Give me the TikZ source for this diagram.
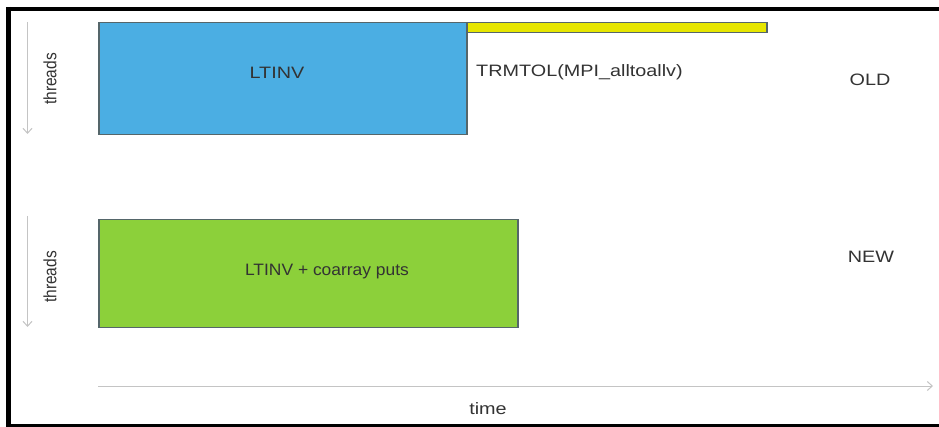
\documentclass[tikz,border=0pt]{standalone}
\usepackage{fontspec}
\setmainfont{Liberation Sans}
\usetikzlibrary{arrows.meta}
\definecolor{ltblue}{HTML}{4BAEE3}
\definecolor{ltgreen}{HTML}{8CD03A}
\definecolor{ltyellow}{HTML}{E6E600}
\definecolor{edgegray}{HTML}{55666A}
\definecolor{axisgray}{HTML}{C4C4C4}
\definecolor{txtgray}{HTML}{333333}
\begin{document}
\begin{tikzpicture}[x=1pt,y=-1pt,
  bar/.style={draw=edgegray,line width=1.5pt,inner sep=0pt},
  lbl/.style={text=txtgray,font=\fontsize{16.5}{19}\selectfont,inner sep=0pt,xscale=1.2},
  vlbl/.style={text=txtgray,font=\fontsize{15.5}{18}\selectfont,inner sep=0pt,rotate=90,yscale=1.15},
  axis/.style={draw=axisgray,line width=1pt,-{Straight Barb[length=5pt,width=9pt]}}]
\useasboundingbox (0,0) rectangle (939,427);
\fill[white] (0,0) rectangle (939,427);
% frame
\draw[black,line width=4pt] (6,9) -- (939,9);
\draw[black,line width=5pt] (8.5,7) -- (8.5,427);
\draw[black,line width=3pt] (6,425.5) -- (939,425.5);
% bars
\node[bar,fill=ltblue,minimum width=368pt,minimum height=112pt,anchor=north west] (ltinv) at (98,22) {};
\node[bar,fill=ltyellow,minimum width=300pt,minimum height=10pt,anchor=north west] (trm) at (466,22) {};
\node[bar,fill=ltgreen,minimum width=419pt,minimum height=108pt,anchor=north west] (ltnew) at (98,219) {};
\node[lbl] (t1) at (277,73) {LTINV};
\node[lbl,xscale=0.88] (t2) at (327,272) {LTINV + coarray puts};
\node[lbl,anchor=west] (t3) at (476,72) {TRMTOL(MPI\_alltoallv)};
\node[lbl] (old) at (870,80) {OLD};
\node[lbl] (new) at (871,257) {NEW};
% threads axes
\coordinate (a1s) at (27.5,22);
\coordinate (a1e) at (27.5,134);
\coordinate (a2s) at (27.5,216);
\coordinate (a2e) at (27.5,327);
\draw[axis] (a1s) -- (a1e);
\draw[axis] (a2s) -- (a2e);
\node[vlbl] (th1) at (50,79) {threads};
\node[vlbl] (th2) at (50,277) {threads};
% time axis
\coordinate (ts) at (98,386);
\coordinate (te) at (933,386);
\draw[axis] (ts) -- (te);
\node[lbl] (time) at (488,409) {time};
\end{tikzpicture}
\end{document}
